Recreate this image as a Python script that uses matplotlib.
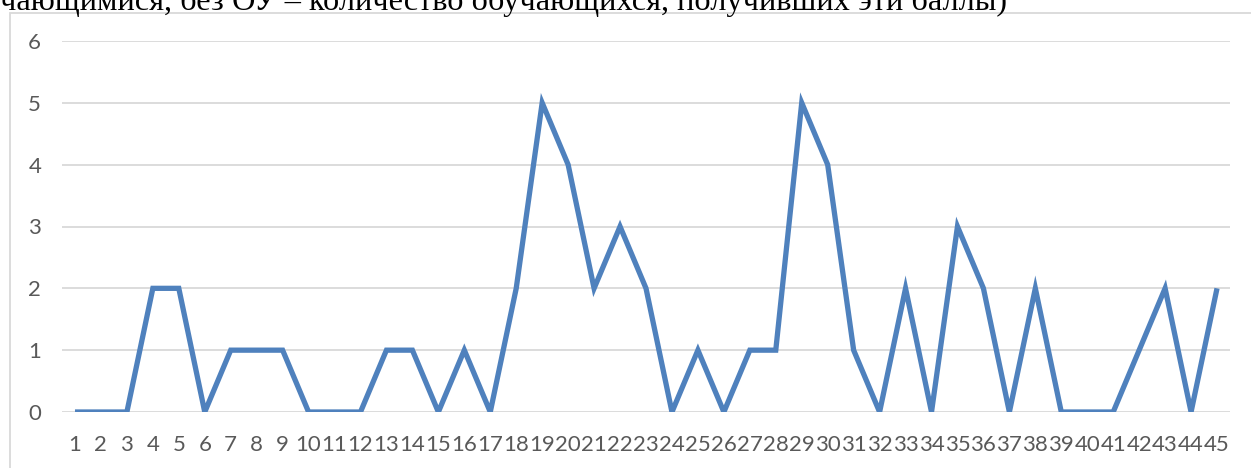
import matplotlib
matplotlib.use("Agg")
import matplotlib.pyplot as plt
from matplotlib.patches import Rectangle

categories = [str(i) for i in range(1, 46)]
values = [0, 0, 0, 2, 2, 0, 1, 1, 1, 0, 0, 0, 1, 1, 0, 1, 0, 2, 5, 4,
          2, 3, 2, 0, 1, 0, 1, 1, 5, 4, 1, 0, 2, 0, 3, 2, 0, 2, 0, 0,
          0, 1, 2, 0, 2]
yticks = [0, 1, 2, 3, 4, 5, 6]
caption = "чающимися, без ОУ – количество обучающихся, получивших эти баллы)"

W, H = 1251, 468
fig = plt.figure(figsize=(W / 100, H / 100), dpi=100)
fig.patch.set_facecolor("white")

# chart frame
fig.patches.append(Rectangle((10 / W, -0.05), 1.1, 1 - 12.5 / H + 0.05,
                             transform=fig.transFigure, fill=False,
                             edgecolor="#D9D9D9", linewidth=1.3))

# clipped caption on top (cut off by the page edge in the original)
fig.text(0.0, 1 - 10 / H, caption, family="Liberation Serif", fontsize=23.3,
         color="black", ha="left", va="baseline")

ax = fig.add_axes([62 / W, 1 - 412 / H, (1230 - 62) / W, (412 - 41) / H])
x = list(range(len(categories)))
ax.plot(x, values, color="#4F81BD", linewidth=3.8, solid_joinstyle="miter",
        solid_capstyle="butt", zorder=3)
ax.set_xlim(-0.5, len(categories) - 0.5)
ax.set_ylim(0, 6)
ax.set_xticks(x)
ax.set_xticklabels(categories)
ax.set_yticks(yticks)
ax.set_yticklabels([str(v) for v in yticks])
for s in ax.spines.values():
    s.set_visible(False)
ax.grid(axis="y", color="#D9D9D9", linewidth=1.3, zorder=0)
ax.set_axisbelow(True)
ax.tick_params(axis="both", length=0, labelcolor="#595959", labelsize=16)
ax.tick_params(axis="x", pad=16.5)
ax.tick_params(axis="y", pad=15)
for lab in ax.get_xticklabels() + ax.get_yticklabels():
    lab.set_family("Lato")

fig.savefig("out.png", dpi=100)
